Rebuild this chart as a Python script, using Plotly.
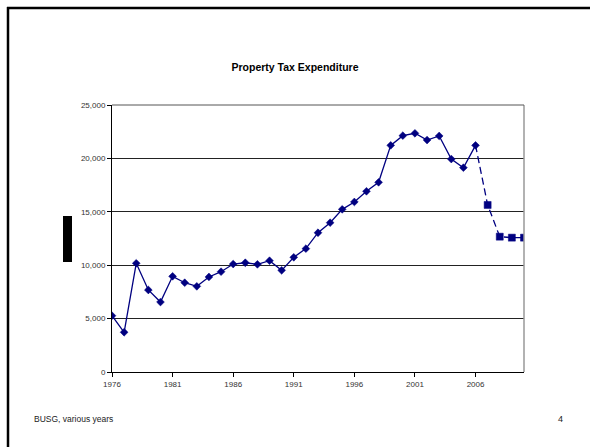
import plotly.graph_objects as go

# Property tax expenditure, recorded years
actual_years = list(range(1976, 2007))
actual_values = [5270, 3720, 10180, 7680, 6550, 8960, 8360, 8020, 8900, 9390,
                 10110, 10230, 10080, 10420, 9520, 10740, 11550, 13040, 13980, 15230,
                 15920, 16920, 17760, 21220, 22130, 22350, 21720, 22100, 19940, 19130,
                 21220]

# Projected years (joined to the last recorded year)
proj_years = [2006, 2007, 2008, 2009, 2010]
proj_values = [21220, 15640, 12670, 12580, 12580]

x_ticks = [1976, 1981, 1986, 1991, 1996, 2001, 2006]
y_ticks = [0, 5000, 10000, 15000, 20000, 25000]
y_labels = ["0", "5,000", "10,000", "15,000", "20,000", "25,000"]

W, H = 590, 447
L, R, T, B = 112, 66, 105, 75
PW, PH = W - L - R, H - T - B


def px(x):
    return (x - L) / PW


def py(y):
    return (H - B - y) / PH


NAVY = "#000080"
FONT = "Liberation Sans, Arial, sans-serif"

fig = go.Figure()
# dashed projection line, then its square markers (first point sits under the diamond)
fig.add_trace(go.Scatter(
    x=proj_years, y=proj_values, mode="lines",
    line=dict(color=NAVY, width=1.3, dash="7px,4px"),
    showlegend=False, hoverinfo="skip",
))
fig.add_trace(go.Scatter(
    x=proj_years[1:], y=proj_values[1:], mode="markers",
    marker=dict(symbol="square", size=7, color=NAVY, opacity=1,
                line=dict(width=0.5, color=NAVY)),
    showlegend=False, hoverinfo="x+y",
))
fig.add_trace(go.Scatter(
    x=actual_years, y=actual_values, mode="lines+markers",
    line=dict(color=NAVY, width=1.3),
    marker=dict(symbol="diamond", size=6, color=NAVY, line=dict(width=0.5, color=NAVY)),
    showlegend=False, hoverinfo="x+y",
))

fig.update_layout(
    width=W, height=H,
    margin=dict(l=L, r=R, t=T, b=B, pad=0),
    paper_bgcolor="white", plot_bgcolor="white",
    font=dict(family=FONT, color="#222"),
    title=dict(text="<b>Property Tax Expenditure</b>", x=295 / W, xanchor="center",
               y=1 - 67 / H, yanchor="middle",
               font=dict(size=10.5, color="black", family=FONT)),
    xaxis=dict(range=[1976, 2010], tickvals=x_ticks, ticktext=[str(v) for v in x_ticks],
               showgrid=False, zeroline=False, showline=True, linecolor="black", linewidth=1,
               ticks="outside", ticklen=4, tickcolor="black", tickwidth=1,
               tickfont=dict(size=8, color="#333")),
    yaxis=dict(range=[0, 25000], tickvals=y_ticks, ticktext=y_labels,
               showgrid=True, gridcolor="#222", gridwidth=1, zeroline=False,
               showline=True, linecolor="black", linewidth=1,
               ticks="outside", ticklen=4, tickcolor="black", tickwidth=1,
               tickfont=dict(size=8, color="#333")),
    shapes=[
        # right edge of the plot area
        dict(type="line", xref="paper", yref="paper", x0=1, x1=1, y0=0, y1=1,
             line=dict(color="#999", width=1.5)),
        # top line of the plot area
        dict(type="line", xref="paper", yref="paper", x0=0, x1=1, y0=1, y1=1,
             line=dict(color="#555", width=1)),
        # slide frame
        dict(type="line", xref="paper", yref="paper", x0=px(7), x1=px(600), y0=py(8), y1=py(8),
             line=dict(color="black", width=2.5)),
        dict(type="line", xref="paper", yref="paper", x0=px(8), x1=px(8), y0=py(7), y1=py(460),
             line=dict(color="black", width=2.5)),
        # black block beside the value axis
        dict(type="rect", xref="paper", yref="paper", x0=px(63), x1=px(72), y0=py(262), y1=py(216),
             fillcolor="black", line=dict(width=0)),
    ],
    annotations=[
        dict(text="BUSG, various years", xref="paper", yref="paper", x=px(32), y=py(419),
             xanchor="left", yanchor="middle", showarrow=False,
             font=dict(size=8.5, color="#222", family=FONT)),
        dict(text="4", xref="paper", yref="paper", x=px(560), y=py(419),
             xanchor="center", yanchor="middle", showarrow=False,
             font=dict(size=9, color="#222", family=FONT)),
    ],
)

fig.write_html("out.html")
